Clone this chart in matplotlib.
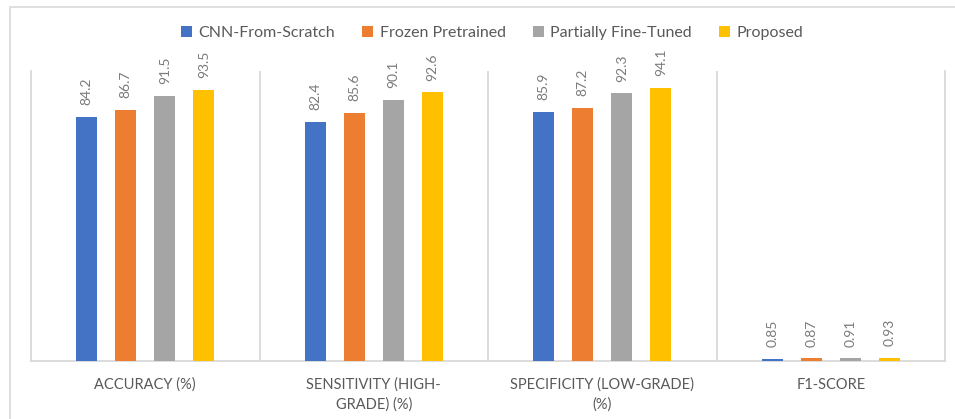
import matplotlib.pyplot as plt
import numpy as np
from matplotlib.patches import Rectangle

plt.rcParams["font.family"] = ["Lato", "DejaVu Sans"]

categories = [
    "ACCURACY (%)",
    "SENSITIVITY (HIGH-\nGRADE) (%)",
    "SPECIFICITY (LOW-GRADE)\n(%)",
    "F1-SCORE",
]
series_names = ["CNN-From-Scratch", "Frozen Pretrained", "Partially Fine-Tuned", "Proposed"]
cnn_scratch = [84.2, 82.4, 85.9, 0.85]
frozen_pretrained = [86.7, 85.6, 87.2, 0.87]
partially_finetuned = [91.5, 90.1, 92.3, 0.91]
proposed = [93.5, 92.6, 94.1, 0.93]

COLORS = ["#4472C4", "#ED7D31", "#A5A5A5", "#FFC000"]
TEXT = "#595959"
LABEL = "#7a7a7a"
LINE = "#d9d9d9"

W, H = 955, 419
fig = plt.figure(figsize=(W / 100, H / 100), dpi=100)

# chart frame (top and left edges visible, rest runs off the canvas)
fig.patches.append(Rectangle((10 / W, -0.1), 1.2, 1 - 7 / H + 0.1,
                             transform=fig.transFigure, fill=False,
                             edgecolor=LINE, linewidth=1.2))

ax = fig.add_axes([31 / W, 1 - 361 / H, (945 - 31) / W, (361 - 71) / H])

x = np.arange(len(categories))
spacing = 0.171
width = 0.092
all_series = [cnn_scratch, frozen_pretrained, partially_finetuned, proposed]

for i, (name, vals) in enumerate(zip(series_names, all_series)):
    offset = (i - 1.5) * spacing
    bars = ax.bar(x + offset, vals, width, color=COLORS[i], label=name, zorder=3)
    for bar, v in zip(bars, vals):
        text = f"{v:.2f}" if v < 1 else f"{v:.1f}"
        ax.annotate(text, (bar.get_x() + bar.get_width() / 2, bar.get_height()),
                    xytext=(0, 8.5), textcoords="offset points",
                    rotation=90, ha="center", va="bottom",
                    fontsize=10, color=LABEL)

ax.set_xlim(-0.5, len(categories) - 0.5)
ax.set_ylim(0, 100)
ax.set_yticks([])
ax.set_xticks(x)
ax.set_xticklabels(categories, fontsize=10.5, color=TEXT, linespacing=1.5)
ax.tick_params(axis="x", length=0, pad=12)

# category dividers
for xv in x[:-1] + 0.5:
    ax.axvline(xv, color=LINE, linewidth=1.3, zorder=1)

ax.spines["top"].set_visible(False)
for side in ("left", "right", "bottom"):
    ax.spines[side].set_color(LINE)
    ax.spines[side].set_linewidth(1.3)

fig.legend(loc="center", bbox_to_anchor=(492 / W, 1 - 33 / H), ncol=4,
           frameon=False, fontsize=11.5, handlelength=0.7, handleheight=0.7,
           handletextpad=0.4, columnspacing=1.7, labelcolor=TEXT)

fig.savefig("out.png", dpi=100)
